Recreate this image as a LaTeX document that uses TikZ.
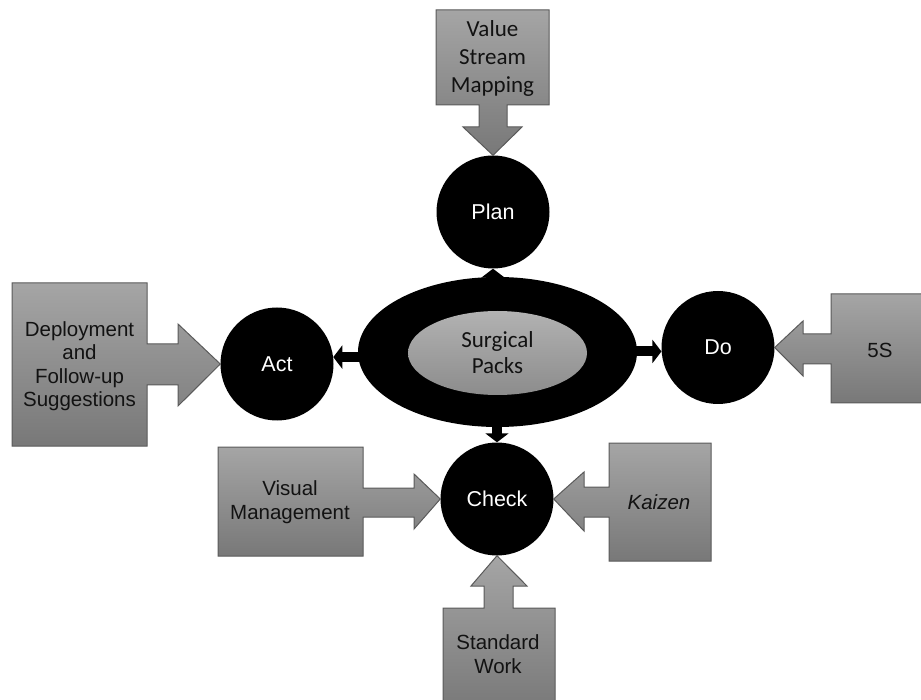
\documentclass[tikz,border=0pt]{standalone}
\usepackage{fontspec}
\setmainfont{Liberation Sans}
\newfontfamily\calibri{Carlito}
\usetikzlibrary{shapes.geometric,arrows.meta}
\definecolor{boxtop}{RGB}{165,165,165}
\definecolor{boxbot}{RGB}{120,120,120}
\definecolor{boxline}{RGB}{90,90,90}
\definecolor{txt}{RGB}{18,18,18}
\definecolor{inntop}{RGB}{178,178,178}
\definecolor{innbot}{RGB}{140,140,140}
\begin{document}
\begin{tikzpicture}[x=1pt,y=-1pt,
  callout/.style={draw=boxline, line width=1pt, top color=boxtop, bottom color=boxbot, line join=miter},
  phase/.style={circle, fill=black, minimum size=113pt, inner sep=0pt, text=white, font=\fontsize{21.5}{25}\selectfont},
  boxtext/.style={text=txt, align=center, font=\fontsize{20.5}{23.5}\selectfont},
  conn/.style={draw=black, line width=10pt, -{Triangle[width=23pt,length=9pt]}, shorten <=-4pt}]
\useasboundingbox (0,0) rectangle (921,700);
\clip (0,0) rectangle (921,700);
% hub
\node[ellipse, fill=black, minimum width=279pt, minimum height=150pt, inner sep=0pt] (hub) at (497.5,352) {};
% phases
\node[phase] (plan) at (493,212) {Plan};
\node[phase] (act) at (277,364) {Act};
\node[phase] (do) at (718,347.5) {Do};
\node[phase] (check) at (497,499) {Check};
% connectors hub -> phases
\draw[conn] (plan.south |- hub.north) -- (plan.south);
\draw[conn] (check.north |- hub.south) -- (check.north);
\draw[conn] (hub.west |- act.7) -- (act.7);
\draw[conn] (hub.east |- do.184) -- (do.184);
% inner ellipse
\node[ellipse, top color=inntop, bottom color=innbot, minimum width=179pt, minimum height=84pt, inner sep=0pt, text=txt, align=center, font=\calibri\fontsize{23}{26}\selectfont] (packs) at (497.5,353) {Surgical\\Packs};
% callouts
\path[callout] (436,10) -- (549,10) -- (549,105) -- (507,105) -- (507,127) -- (522,127) -- (plan.north) -- (463,127) -- (479,127) -- (479,105) -- (436,105) -- cycle;
\path[callout] (12,283) -- (147,283) -- (147,344) -- (178,344) -- (178,324) -- (act.west) -- (178,406) -- (178,385) -- (147,385) -- (147,446) -- (12,446) -- cycle;
\path[callout] (931,294) -- (831,294) -- (831,334) -- (803,334) -- (803,321) -- (do.east) -- (803,376) -- (803,364) -- (831,364) -- (831,403) -- (931,403) -- cycle;
\path[callout] (218,447) -- (363,447) -- (363,488) -- (414,488) -- (414,474) -- (check.west) -- (414,529) -- (414,517) -- (363,517) -- (363,556) -- (218,556) -- cycle;
\path[callout] (711,443) -- (609,443) -- (609,487) -- (584,487) -- (584,472) -- (check.east) -- (584,531) -- (584,517) -- (609,517) -- (609,561) -- (711,561) -- cycle;
\path[callout] (443,712) -- (443,608) -- (484,608) -- (484,586) -- (471,586) -- (check.south) -- (527,586) -- (513,586) -- (513,608) -- (555,608) -- (555,712) -- cycle;
% callout texts
\node[boxtext, font=\calibri\fontsize{23}{28}\selectfont] (vsm) at (492.5,58) {Value\\Stream\\Mapping};
\node[boxtext] (dep) at (79.5,366) {Deployment\\and\\Follow-up\\Suggestions};
\node[boxtext] (fives) at (880,350) {5S};
\node[boxtext] (vm) at (290,502) {Visual\\Management};
\node[boxtext, font=\fontsize{20.5}{23.5}\selectfont\itshape] (kai) at (659,502) {Kaizen};
\node[boxtext] (sw) at (498,654) {Standard\\Work};
\end{tikzpicture}
\end{document}
